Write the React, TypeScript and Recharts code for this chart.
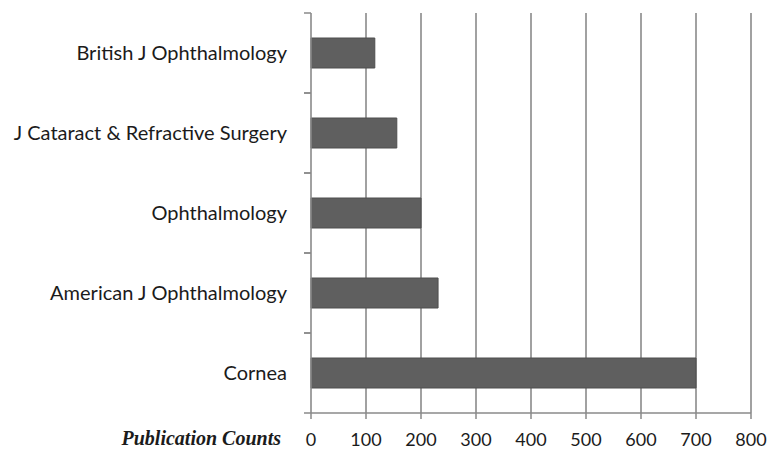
import { Bar, BarChart, CartesianGrid, XAxis, YAxis } from "recharts";

const journals = [
  "British J Ophthalmology",
  "J Cataract & Refractive Surgery",
  "Ophthalmology",
  "American J Ophthalmology",
  "Cornea",
];
const counts = [116, 156, 200, 231, 700];
const countTicks = [0, 100, 200, 300, 400, 500, 600, 700, 800];

const data = journals.map((name, i) => ({ name, count: counts[i] }));

const GRID = "#8a8a8a";
const BAR = "#5f5f5f";
const TEXT = "#1b1b1b";
const LABEL_FONT = "Lato, 'Open Sans', sans-serif";
const TICK_SIZE = 7;
const TICK_MARGIN = 17;

// category label plus the boundary tick marks Excel puts between bands
function JournalTick(props: any) {
  const { x, y, payload } = props;
  const half = payload?.offset ?? 0;
  const axisX = x + TICK_SIZE + TICK_MARGIN;
  return (
    <g>
      <line x1={axisX - TICK_SIZE} x2={axisX} y1={y - half} y2={y - half} stroke={GRID} strokeWidth={1.5} />
      <line x1={axisX - TICK_SIZE} x2={axisX} y1={y + half} y2={y + half} stroke={GRID} strokeWidth={1.5} />
      <text x={x} y={y} dy="0.35em" textAnchor="end" fill={TEXT} fontFamily={LABEL_FONT} fontSize={20}>
        {payload.value}
      </text>
    </g>
  );
}

export default function App() {
  return (
    <div style={{ position: "absolute", left: 0, top: 0, background: "#fff" }}>
      <BarChart
        width={772}
        height={449}
        data={data}
        layout="vertical"
        margin={{ top: 13, right: 21, bottom: 0, left: 0 }}
        barSize={30}
      >
        <CartesianGrid horizontal={false} stroke={GRID} strokeWidth={1.6} verticalValues={countTicks.slice(1)} />
        <XAxis
          type="number"
          domain={[0, 800]}
          ticks={countTicks}
          height={36}
          axisLine={{ stroke: GRID, strokeWidth: 1.6 }}
          tickLine={{ stroke: GRID, strokeWidth: 1.5 }}
          tickSize={6}
          tickMargin={14}
          tick={{ fill: TEXT, fontFamily: LABEL_FONT, fontSize: 18 }}
          label={{
            value: "Publication Counts",
            position: "left",
            offset: 30,
            dy: 7,
            fill: TEXT,
            fontFamily: "'Liberation Serif', 'Times New Roman', serif",
            fontWeight: "bold",
            fontStyle: "italic",
            fontSize: 20,
          }}
        />
        <YAxis
          type="category"
          dataKey="name"
          width={311}
          axisLine={{ stroke: GRID, strokeWidth: 1.6 }}
          tickLine={false}
          tickSize={TICK_SIZE}
          tickMargin={TICK_MARGIN}
          tick={<JournalTick />}
          interval={0}
        />
        <Bar dataKey="count" fill={BAR} stroke="#4e4e4e" strokeWidth={1} isAnimationActive={false} />
      </BarChart>
    </div>
  );
}
